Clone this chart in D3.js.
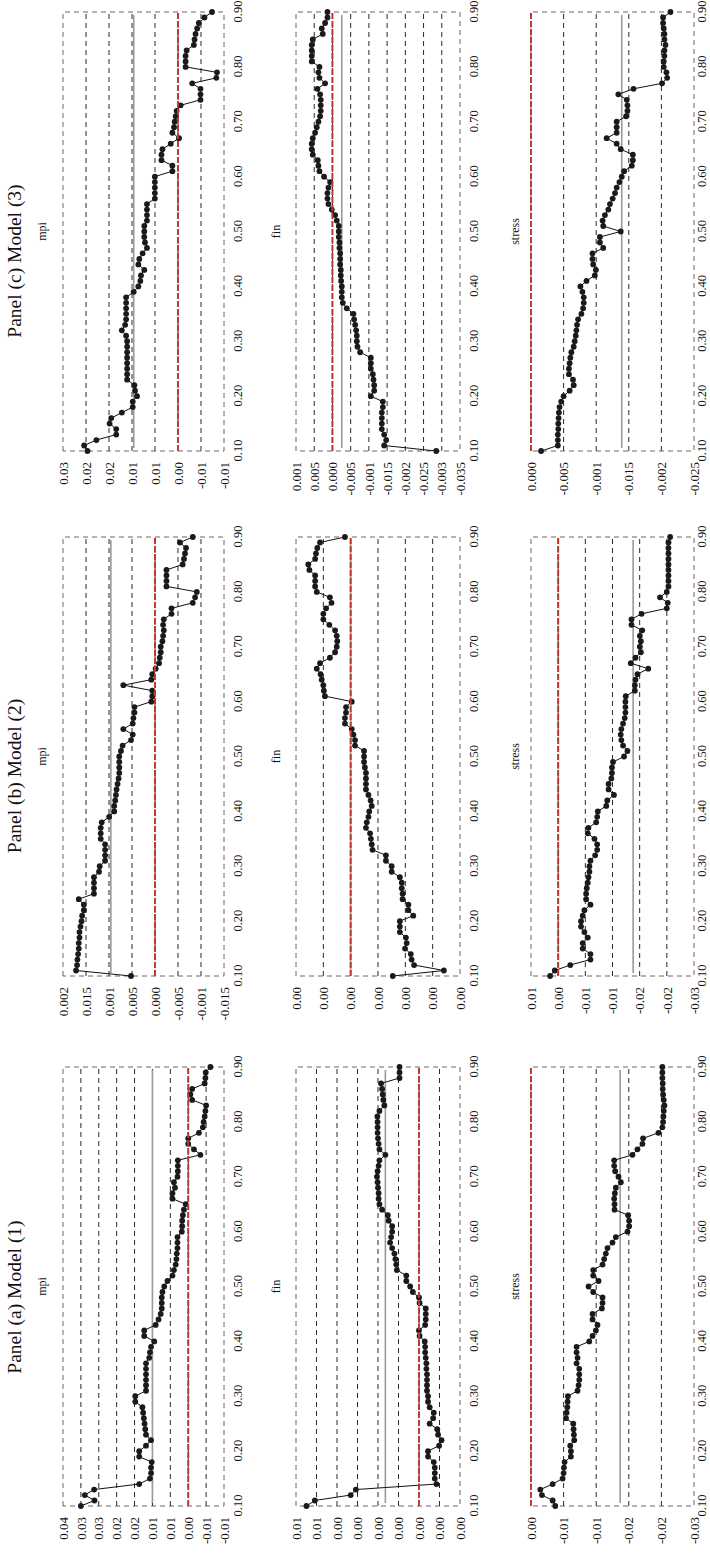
<!DOCTYPE html>
<html>
<head>
<meta charset="utf-8">
<script src="https://cdn.jsdelivr.net/npm/d3@7"></script>
<style>
  body { margin: 0; background: #fff; }
  svg { display: block; }
</style>
</head>
<body>
<div id="chart"></div>
<script>
const serif = '"Liberation Serif", "Times New Roman", "DejaVu Serif", serif';

// quantiles 0.10 .. 0.90
const quantiles = [
  0.10,0.11,0.12,0.13,0.14,0.15,0.16,0.17,0.18,0.19,
  0.20,0.21,0.22,0.23,0.24,0.25,0.26,0.27,0.28,0.29,
  0.30,0.31,0.32,0.33,0.34,0.35,0.36,0.37,0.38,0.39,
  0.40,0.41,0.42,0.43,0.44,0.45,0.46,0.47,0.48,0.49,
  0.50,0.51,0.52,0.53,0.54,0.55,0.56,0.57,0.58,0.59,
  0.60,0.61,0.62,0.63,0.64,0.65,0.66,0.67,0.68,0.69,
  0.70,0.71,0.72,0.73,0.74,0.75,0.76,0.77,0.78,0.79,
  0.80,0.81,0.82,0.83,0.84,0.85,0.86,0.87,0.88,0.89,
  0.90
];
const quantileTicks = [0.10, 0.20, 0.30, 0.40, 0.50, 0.60, 0.70, 0.80, 0.90];

const panelTitles = ["Panel (a) Model (1)", "Panel (b) Model (2)", "Panel (c) Model (3)"];
const varNames = ["mpi", "fin", "stress"];

// ---- Model (1) ----
const mpiA = [
  0.0300,0.0262,0.0289,0.0263,0.0137,0.0107,0.0104,0.0104,0.0102,0.0137,
  0.0137,0.0118,0.0104,0.0118,0.0120,0.0122,0.0124,0.0126,0.0128,0.0148,
  0.0148,0.0118,0.0118,0.0118,0.0118,0.0118,0.0118,0.0109,0.0107,0.0104,
  0.0095,0.0123,0.0123,0.0091,0.0083,0.0077,0.0074,0.0074,0.0074,0.0072,
  0.0067,0.0058,0.0044,0.0040,0.0035,0.0033,0.0032,0.0030,0.0030,0.0030,
  0.0018,0.0017,0.0017,0.0015,0.0012,0.0007,0.0044,0.0044,0.0037,0.0040,
  0.0030,0.0029,0.0029,0.0029,-0.0034,-0.0016,0.0000,0.0000,-0.0030,-0.0041,
  -0.0043,-0.0046,-0.0048,-0.0050,-0.0011,-0.0006,-0.0011,-0.0046,-0.0048,-0.0049,
  -0.0062
];
const finA = [
  0.00549,0.00508,0.00333,0.00308,-0.00085,-0.00077,-0.00077,-0.00077,-0.00072,-0.00044,
  -0.00044,-0.00098,-0.00110,-0.00093,-0.00089,-0.00052,-0.00069,-0.00072,-0.00052,-0.00044,
  -0.00044,-0.00039,-0.00039,-0.00039,-0.00039,-0.00036,-0.00036,-0.00033,-0.00030,-0.00030,
  -0.00028,-0.00003,0.00000,-0.00030,-0.00033,-0.00033,-0.00033,-0.00003,0.00000,0.00030,
  0.00043,0.00062,0.00062,0.00108,0.00111,0.00115,0.00120,0.00131,0.00141,0.00136,
  0.00131,0.00131,0.00148,0.00152,0.00180,0.00193,0.00197,0.00197,0.00200,0.00202,
  0.00205,0.00202,0.00197,0.00193,0.00164,0.00193,0.00197,0.00200,0.00202,0.00202,
  0.00202,0.00203,0.00193,0.00169,0.00174,0.00177,0.00180,0.00185,0.00095,0.00095,
  0.00095
];
const stressA = [
  -0.00372,-0.00332,-0.00168,-0.00143,-0.00332,-0.00485,-0.00500,-0.00505,-0.00515,-0.00612,
  -0.00612,-0.00602,-0.00663,-0.00658,-0.00653,-0.00648,-0.00536,-0.00546,-0.00556,-0.00561,
  -0.00566,-0.00714,-0.00730,-0.00740,-0.00740,-0.00740,-0.00699,-0.00714,-0.00699,-0.00699,
  -0.00893,-0.00944,-0.00995,-0.01020,-0.00944,-0.00944,-0.01087,-0.01097,-0.01097,-0.00954,
  -0.00883,-0.01036,-0.00954,-0.00954,-0.01097,-0.01122,-0.01148,-0.01173,-0.01250,-0.01301,
  -0.01480,-0.01505,-0.01505,-0.01490,-0.01281,-0.01281,-0.01276,-0.01286,-0.01301,-0.01378,
  -0.01342,-0.01291,-0.01276,-0.01276,-0.01556,-0.01633,-0.01709,-0.01719,-0.01954,-0.02015,
  -0.02026,-0.02031,-0.02036,-0.02046,-0.02036,-0.02026,-0.02020,-0.02020,-0.02015,-0.02015,
  -0.02015
];

// ---- Model (2) ----
const mpiB = [
  0.00521,0.01716,0.01694,0.01686,0.01672,0.01657,0.01657,0.01642,0.01642,0.01620,
  0.01598,0.01584,0.01547,0.01547,0.01657,0.01327,0.01327,0.01327,0.01327,0.01217,
  0.01202,0.01085,0.01085,0.01085,0.01085,0.01180,0.01180,0.01180,0.01158,0.00997,
  0.00887,0.00887,0.00865,0.00850,0.00836,0.00814,0.00792,0.00777,0.00777,0.00777,
  0.00777,0.00740,0.00704,0.00521,0.00484,0.00689,0.00484,0.00469,0.00447,0.00447,
  0.00081,0.00059,0.00059,0.00689,0.00081,0.00059,-0.00015,-0.00088,-0.00103,-0.00125,
  -0.00125,-0.00161,-0.00176,-0.00191,-0.00176,-0.00191,-0.00359,-0.00359,-0.00821,-0.00872,
  -0.00909,-0.00249,-0.00249,-0.00249,-0.00249,-0.00601,-0.00630,-0.00652,-0.00674,-0.00543,
  -0.00821
];
const finB = [
  -0.00154,-0.00341,-0.00232,-0.00223,-0.00220,-0.00199,-0.00205,-0.00202,-0.00180,-0.00180,
  -0.00180,-0.00229,-0.00211,-0.00211,-0.00190,-0.00190,-0.00187,-0.00187,-0.00180,-0.00150,
  -0.00150,-0.00129,-0.00129,-0.00080,-0.00077,-0.00074,-0.00071,-0.00056,-0.00059,-0.00065,
  -0.00068,-0.00077,-0.00073,-0.00065,-0.00056,-0.00056,-0.00056,-0.00056,-0.00052,-0.00049,
  -0.00049,-0.00049,-0.00016,-0.00016,-0.00010,-0.00004,0.00021,0.00021,0.00017,0.00017,
  -0.00004,0.00094,0.00098,0.00100,0.00106,0.00110,0.00124,0.00112,0.00076,0.00057,
  0.00051,0.00049,0.00051,0.00057,0.00078,0.00100,0.00100,0.00090,0.00070,0.00076,
  0.00124,0.00130,0.00130,0.00130,0.00151,0.00155,0.00130,0.00127,0.00122,0.00112,
  0.00021
];
const stressB = [
  0.00149,0.00062,-0.00223,-0.00594,-0.00594,-0.00452,-0.00452,-0.00545,-0.00483,-0.00421,
  -0.00421,-0.00452,-0.00483,-0.00594,-0.00514,-0.00514,-0.00526,-0.00545,-0.00557,-0.00575,
  -0.00575,-0.00594,-0.00681,-0.00718,-0.00718,-0.00668,-0.00545,-0.00557,-0.00699,-0.00718,
  -0.00730,-0.00885,-0.00903,-0.01027,-0.00928,-0.00928,-0.00978,-0.00990,-0.00990,-0.01009,
  -0.01213,-0.01275,-0.01194,-0.01163,-0.01151,-0.01163,-0.01194,-0.01225,-0.01238,-0.01238,
  -0.01238,-0.01244,-0.01411,-0.01411,-0.01423,-0.01460,-0.01658,-0.01337,-0.01423,-0.01522,
  -0.01504,-0.01522,-0.01504,-0.01547,-0.01349,-0.01349,-0.01535,-0.01999,-0.02017,-0.01875,
  -0.01999,-0.02030,-0.02030,-0.02030,-0.02030,-0.02030,-0.02030,-0.02030,-0.02030,-0.02030,
  -0.02061
];

// ---- Model (3) ----
const mpiC = [
  0.01968,0.02040,0.01774,0.01343,0.01343,0.01487,0.01451,0.01221,0.00984,0.00984,
  0.00891,0.00934,0.00948,0.01106,0.01106,0.01106,0.01106,0.01106,0.01106,0.01106,
  0.01106,0.01128,0.01221,0.01149,0.01128,0.01128,0.01128,0.01128,0.01128,0.00963,
  0.00862,0.00819,0.00805,0.00733,0.00862,0.00841,0.00769,0.00675,0.00718,0.00733,
  0.00733,0.00733,0.00675,0.00675,0.00675,0.00675,0.00503,0.00503,0.00503,0.00503,
  0.00503,0.00122,0.00122,0.00359,0.00359,0.00338,0.00158,-0.00022,0.00122,0.00086,
  0.00072,0.00050,0.00029,-0.00057,-0.00489,-0.00489,-0.00489,-0.00309,-0.00833,-0.00848,
  -0.00165,-0.00165,-0.00165,-0.00187,-0.00345,-0.00359,-0.00381,-0.00417,-0.00453,-0.00575,
  -0.00740
];
const finC = [
  -0.02848,-0.01419,-0.01474,-0.01419,-0.01355,-0.01355,-0.01355,-0.01355,-0.01383,-0.01383,
  -0.01053,-0.01145,-0.01145,-0.01126,-0.01108,-0.01053,-0.01053,-0.01053,-0.00760,-0.00687,
  -0.00668,-0.00668,-0.00650,-0.00623,-0.00595,-0.00577,-0.00394,-0.00284,-0.00256,-0.00256,
  -0.00256,-0.00238,-0.00229,-0.00229,-0.00211,-0.00211,-0.00211,-0.00192,-0.00192,-0.00174,
  -0.00174,-0.00174,-0.00119,-0.00073,0.00018,0.00110,0.00137,0.00137,0.00110,0.00064,
  0.00229,0.00357,0.00385,0.00403,0.00540,0.00568,0.00568,0.00540,0.00476,0.00430,
  0.00385,0.00339,0.00321,0.00321,0.00321,0.00339,0.00412,0.00201,0.00357,0.00385,
  0.00357,0.00568,0.00568,0.00568,0.00568,0.00540,0.00266,0.00293,0.00201,0.00137,
  0.00137
];
const stressC = [
  -0.00155,-0.00412,-0.00412,-0.00412,-0.00418,-0.00418,-0.00423,-0.00428,-0.00438,-0.00464,
  -0.00500,-0.00593,-0.00655,-0.00644,-0.00582,-0.00582,-0.00593,-0.00603,-0.00619,-0.00655,
  -0.00670,-0.00686,-0.00696,-0.00706,-0.00722,-0.00773,-0.00799,-0.00809,-0.00809,-0.00789,
  -0.00758,-0.00851,-0.00979,-0.00995,-0.00954,-0.00943,-0.00943,-0.01108,-0.01057,-0.01057,
  -0.01376,-0.01108,-0.01098,-0.01134,-0.01186,-0.01211,-0.01253,-0.01289,-0.01314,-0.01356,
  -0.01392,-0.01428,-0.01546,-0.01562,-0.01562,-0.01376,-0.01314,-0.01160,-0.01314,-0.01314,
  -0.01314,-0.01459,-0.01479,-0.01479,-0.01469,-0.01340,-0.01572,-0.02010,-0.02088,-0.02077,
  -0.02036,-0.02036,-0.02046,-0.02046,-0.02062,-0.02046,-0.02046,-0.02036,-0.02026,-0.02026,
  -0.02139
];

// full-sample estimate (grey line), per model: mpi, fin, stress
const olsA = [0.0100, 0.00164, -0.01367];
const olsB = [0.0096, 0.0000, -0.0138];
const olsC = [0.00963, -0.00256, -0.01392];

// value-axis ticks and their printed labels
const ticksA = [
  [0.035, 0.03, 0.025, 0.02, 0.015, 0.01, 0.005, 0, -0.005, -0.01],
  [0.006, 0.005, 0.004, 0.003, 0.002, 0.001, 0, -0.001, -0.002],
  [0, -0.005, -0.01, -0.015, -0.02, -0.025]
];
const labelsA = [
  ["0.04","0.03","0.03","0.02","0.02","0.01","0.01","0.00","-0.01","-0.01"],
  ["0.01","0.01","0.00","0.00","0.00","0.00","0.00","0.00","0.00"],
  ["0.00","-0.01","-0.01","-0.02","-0.02","-0.03"]
];
const ticksB = [
  [0.02, 0.015, 0.01, 0.005, 0, -0.005, -0.01, -0.015],
  [0.002, 0.001, 0, -0.001, -0.002, -0.003, -0.004],
  [0.005, 0, -0.005, -0.01, -0.015, -0.02, -0.025]
];
const labelsB = [
  ["0.002","0.015","0.001","0.005","0.000","-0.005","-0.001","-0.015"],
  ["0.00","0.00","0.00","0.00","0.00","0.00","0.00"],
  ["0.01","0.00","-0.01","-0.01","-0.02","-0.02","-0.03"]
];
const ticksC = [
  [0.025, 0.02, 0.015, 0.01, 0.005, 0, -0.005, -0.01],
  [0.01, 0.005, 0, -0.005, -0.01, -0.015, -0.02, -0.025, -0.03, -0.035],
  [0, -0.005, -0.01, -0.015, -0.02, -0.025]
];
const labelsC = [
  ["0.03","0.02","0.02","0.01","0.01","0.00","-0.01","-0.01"],
  ["0.001","0.005","0.000","-0.005","-0.001","-0.015","-0.002","-0.025","-0.003","-0.035"],
  ["0.000","-0.005","-0.001","-0.015","-0.002","-0.025"]
];

const panels = [
  { title: panelTitles[0], series: [mpiA, finA, stressA], ols: olsA, ticks: ticksA, labels: labelsA },
  { title: panelTitles[1], series: [mpiB, finB, stressB], ols: olsB, ticks: ticksB, labels: labelsB },
  { title: panelTitles[2], series: [mpiC, finC, stressC], ols: olsC, ticks: ticksC, labels: labelsC }
];

// the figure is laid out landscape (1557 x 710) and then turned a quarter left
const W = 1557, H = 710;
const colX = [[51, 490], [581, 1020], [1106, 1545]];   // plot box left/right per model
const rowY = [[63, 224], [296, 460], [531, 694]];      // plot box top/bottom per variable
const titleX = [260, 781, 1296];
const subBase = [46, 280, 519];
const qPad = [9, 9, 3];  // last row sits on the page edge

const svg = d3.select("#chart").append("svg")
  .attr("width", H)
  .attr("height", W);

const root = svg.append("g")
  .attr("transform", `translate(0,${W}) rotate(-90)`);

panels.forEach((p, pi) => {
  const pg = root.append("g");

  pg.append("text")
    .attr("x", titleX[pi])
    .attr("y", 21)
    .attr("text-anchor", "middle")
    .style("font-family", serif)
    .style("font-size", "19.5px")
    .attr("fill", "#111")
    .text(p.title);

  varNames.forEach((name, vi) => {
    const ticks = p.ticks[vi];
    const labels = p.labels[vi];
    const [x0, x1] = colX[pi];
    const [y0, y1] = rowY[vi];

    const x = d3.scaleLinear().domain([0.1, 0.9]).range([x0, x1]);
    const y = d3.scaleLinear().domain([ticks[ticks.length - 1], ticks[0]]).range([y1, y0]);

    const g = pg.append("g");

    // subtitle
    g.append("text")
      .attr("x", (x0 + x1) / 2)
      .attr("y", subBase[vi])
      .attr("text-anchor", "middle")
      .style("font-family", serif)
      .style("font-size", "12px")
      .attr("fill", "#111")
      .text(name);

    // dashed grid at inner ticks
    g.selectAll(".grid")
      .data(ticks.slice(1, -1))
      .join("line")
      .attr("class", "grid")
      .attr("x1", x0).attr("x2", x1)
      .attr("y1", d => y(d)).attr("y2", d => y(d))
      .attr("stroke", "#111")
      .attr("stroke-width", 0.9)
      .attr("stroke-dasharray", "5,4");

    // dashed frame
    g.append("rect")
      .attr("x", x0).attr("y", y0)
      .attr("width", x1 - x0).attr("height", y1 - y0)
      .attr("fill", "none")
      .attr("stroke", "#555")
      .attr("stroke-width", 0.9)
      .attr("stroke-dasharray", "5,4");

    // grey full-sample line
    g.append("line")
      .attr("x1", x(0.1) + 3).attr("x2", x(0.9) - 3)
      .attr("y1", y(p.ols[vi])).attr("y2", y(p.ols[vi]))
      .attr("stroke", "#9a9a9a")
      .attr("stroke-width", 1.6);

    // quantile estimates
    const pts = quantiles.map((q, i) => ({ q: q, v: p.series[vi][i] }));
    g.append("path")
      .datum(pts)
      .attr("fill", "none")
      .attr("stroke", "#111")
      .attr("stroke-width", 1)
      .attr("d", d3.line().x(d => x(d.q)).y(d => y(d.v)));

    g.selectAll(".dot")
      .data(pts)
      .join("circle")
      .attr("class", "dot")
      .attr("cx", d => x(d.q))
      .attr("cy", d => y(d.v))
      .attr("r", 2.9)
      .attr("fill", "#1a1a1a");

    // zero line
    g.append("line")
      .attr("x1", x0).attr("x2", x1)
      .attr("y1", y(0)).attr("y2", y(0))
      .attr("stroke", "#c0392b")
      .attr("stroke-width", 2)
      .attr("stroke-dasharray", "6,2");

    // axes (labels only)
    const ay = g.append("g")
      .attr("transform", `translate(${x0},0)`)
      .call(d3.axisLeft(y).tickValues(ticks).tickFormat((d, i) => labels[i]).tickSize(0).tickPadding(11));
    const ax = g.append("g")
      .attr("transform", `translate(0,${y1})`)
      .call(d3.axisBottom(x).tickValues(quantileTicks).tickFormat(d3.format(".2f")).tickSize(0).tickPadding(qPad[vi]));

    ay.selectAll("text").style("font-size", "13px");
    ax.selectAll("text").style("font-size", "12.5px");
    [ay, ax].forEach(a => {
      a.select(".domain").remove();
      a.selectAll("text").style("font-family", serif).attr("fill", "#111");
    });
  });
});
</script>
</body>
</html>
